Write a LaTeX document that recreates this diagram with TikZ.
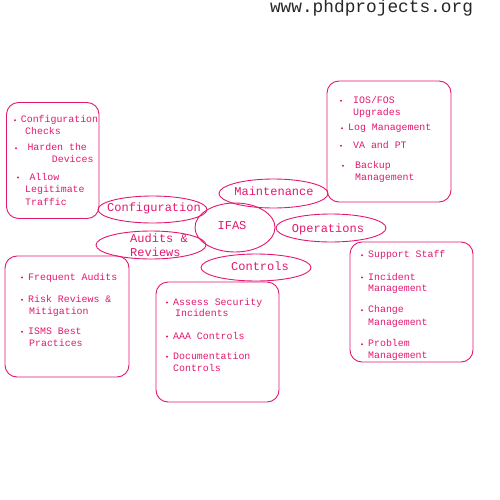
\documentclass[tikz,border=0pt]{standalone}
\usepackage{fontspec}
\newfontfamily\mono{Liberation Mono}
\usetikzlibrary{shapes.geometric}
\definecolor{pk}{RGB}{226,24,112}
\tikzset{
  box/.style={draw=pk, line width=0.9pt, rounded corners=12pt, minimum width=#1, inner sep=0pt},
  oval/.style={draw=pk, line width=0.9pt, ellipse, inner sep=0pt},
  txt/.style={text=pk, font=\mono\fontsize{9.9}{12}\selectfont, anchor=base west, inner sep=0pt},
  lbl/.style={text=pk, font=\mono\fontsize{12}{14}\selectfont, anchor=base, inner sep=0pt},
  dotb/.style={fill=pk, draw=none}
}
\newcommand{\tl}[4]{\node[txt] (#1) at (#2,#3) {#4};}
\newcommand{\bl}[2]{\fill[dotb] (#1,#2) circle (1.1pt);}
\begin{document}
\begin{tikzpicture}[x=1pt,y=-1pt]
\useasboundingbox (0,0) rectangle (500,500);
% header
\node[font=\mono\fontsize{17.8}{20}\selectfont, anchor=base, inner sep=0pt, text=black!85] (hdr) at (371.5,13) {www.phdprojects.org};

% boxes
\node[box=92.5pt, minimum height=116pt] (b1) at (52.75,160.5) {};
\node[box=124pt, minimum height=121pt] (b2) at (389,141.5) {};
\node[box=124pt, minimum height=121pt] (b4) at (67,316.5) {};
\node[box=123pt, minimum height=120pt] (b5) at (217.5,342) {};
\node[box=123pt, minimum height=120pt] (b6) at (411.5,302) {};

% ellipses
\node[oval, minimum width=109pt, minimum height=27pt] (conf) at (152.5,209.5) {};
\node[oval, minimum width=109pt, minimum height=29pt] (main) at (273.5,193.5) {};
\node[oval, minimum width=80pt, minimum height=49pt] (ifas) at (235,227.5) {};
\node[oval, minimum width=110pt, minimum height=28pt] (oper) at (331,228) {};
\node[oval, minimum width=110pt, minimum height=28pt] (audi) at (151,245) {};
\node[oval, minimum width=110pt, minimum height=27pt] (ctrl) at (256,267.5) {};

\node[lbl] (confT) at (154,211.7) {Configuration};
\node[lbl] (mainT) at (274,195.7) {Maintenance};
\node[lbl] (ifasT) at (232,229) {IFAS};
\node[lbl] (operT) at (328,232.3) {Operations};
\node[lbl, anchor=base west] (audiT1) at (130,242.7) {Audits \&};
\node[lbl, anchor=base west] (audiT2) at (130,256.7) {Reviews};
\node[lbl] (ctrlT) at (260,270) {Controls};

% box 1
\bl{15}{120.2}\tl{a1}{20.7}{122.7}{Configuration}
\tl{a2}{25}{134.3}{Checks}
\bl{16}{148.2}\tl{a3}{27.3}{150.7}{Harden the}
\tl{a4}{51.7}{162.7}{Devices}
\bl{18}{177.5}\tl{a5}{29.3}{180}{Allow}
\tl{a6}{25}{192.7}{Legitimate}
\tl{a7}{25}{205}{Traffic}

% box 2
\bl{341}{100.8}\tl{c1}{353}{103.3}{IOS/FOS}
\tl{c2}{353}{115}{Upgrades}
\bl{342}{128.2}\tl{c3}{348}{130.7}{Log Management}
\bl{341}{145.8}\tl{c4}{353}{148.3}{VA and PT}
\bl{343}{165.8}\tl{c5}{355}{168.3}{Backup}
\tl{c6}{355}{180}{Management}

% box 4
\bl{22}{277.5}\tl{d1}{28}{280}{Frequent Audits}
\bl{22}{299.8}\tl{d2}{28}{302.3}{Risk Reviews \&}
\tl{d3}{29}{314}{Mitigation}
\bl{22}{331.8}\tl{d4}{28}{334.3}{ISMS Best}
\tl{d5}{29}{346.7}{Practices}

% box 5
\bl{167}{302.5}\tl{e1}{173}{305}{Assess Security}
\tl{e2}{175}{316.7}{Incidents}
\bl{167}{336.5}\tl{e3}{173}{339}{AAA Controls}
\bl{167}{356.8}\tl{e4}{173}{359.3}{Documentation}
\tl{e5}{173}{371.7}{Controls}

% box 6
\bl{362}{255.2}\tl{f1}{368}{257.7}{Support Staff}
\bl{362}{277.5}\tl{f2}{368}{280}{Incident}
\tl{f3}{368}{291.7}{Management}
\bl{362}{310.2}\tl{f4}{368}{312.7}{Change}
\tl{f5}{368}{325}{Management}
\bl{362}{344.2}\tl{f6}{368}{346.7}{Problem}
\tl{f7}{368}{358.3}{Management}
\end{tikzpicture}
\end{document}
